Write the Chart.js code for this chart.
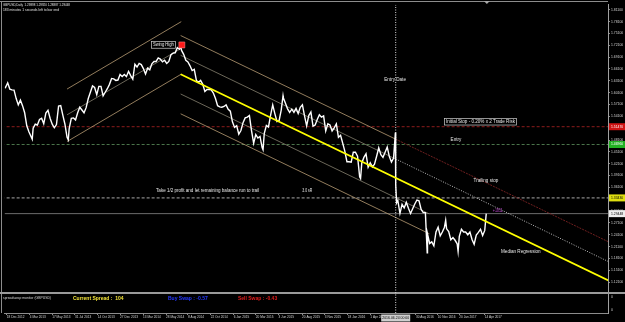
<!DOCTYPE html>
<html lang="en">
<head>
<meta charset="UTF-8">
<title>GBPUSD,Daily</title>
<script src="https://cdn.jsdelivr.net/npm/chart.js"></script>
<style>
  html, body { margin: 0; padding: 0; background: #000; }
  canvas { display: block; }
</style>
</head>
<body>
<canvas id="chart" width="625" height="322"></canvas>
<script>
// ---- weekly closes (Fridays), first one on 2012-12-14 ----
const firstWeek = '2012-12-14';
const close2012 = [1.6145, 1.6260, 1.6100];
const close2013 = [1.6080, 1.6075, 1.5860, 1.5700, 1.5820, 1.5680, 1.5500, 1.5170, 1.5020, 1.4900, 1.5110, 1.5210, 1.5190,
  1.5330, 1.5360, 1.5220, 1.5490, 1.5560, 1.5360, 1.5210, 1.5120, 1.5200, 1.5670, 1.5680, 1.5440, 1.5210, 1.4880,
  1.5100, 1.5360, 1.5370, 1.5320, 1.5500, 1.5640, 1.5570, 1.5500, 1.5630, 1.5860, 1.6020, 1.6180, 1.6140, 1.5960,
  1.6170, 1.6170, 1.5930, 1.6020, 1.6110, 1.6220, 1.6370, 1.6360, 1.6320, 1.6330, 1.6470];
const close2014 = [1.6420, 1.6470, 1.6420, 1.6550, 1.6440, 1.6350, 1.6730, 1.6660, 1.6750, 1.6720, 1.6620, 1.6480, 1.6630,
  1.6590, 1.6740, 1.6800, 1.6800, 1.6890, 1.6860, 1.6790, 1.6830, 1.6750, 1.6800, 1.6970, 1.7010, 1.7020, 1.7150,
  1.7110, 1.7080, 1.6980, 1.6830, 1.6790, 1.6690, 1.6570, 1.6600, 1.6320, 1.6270, 1.6320, 1.6220, 1.6040, 1.6090,
  1.6090, 1.6080, 1.6000, 1.5860, 1.5680, 1.5650, 1.5640, 1.5660, 1.5700, 1.5590, 1.5540];
const close2015 = [1.5270, 1.5130, 1.5170, 1.4960, 1.5050, 1.5250, 1.5370, 1.5390, 1.5430, 1.5050, 1.4730, 1.4950, 1.4860,
  1.4900, 1.4620, 1.4970, 1.5180, 1.5140, 1.5440, 1.5700, 1.5480, 1.5280, 1.5300, 1.5570, 1.5880, 1.5740, 1.5600,
  1.5510, 1.5590, 1.5510, 1.5610, 1.5480, 1.5640, 1.5700, 1.5420, 1.5170, 1.5430, 1.5520, 1.5160, 1.5190, 1.5330,
  1.5450, 1.5390, 1.5420, 1.5040, 1.5220, 1.5190, 1.5040, 1.5120, 1.5220, 1.4880, 1.4930];
const close2016 = [1.4730, 1.4530, 1.4260, 1.4260, 1.4250, 1.4500, 1.4500, 1.4400, 1.3880, 1.4230, 1.4370, 1.4460, 1.4120,
  1.4230, 1.4130, 1.4200, 1.4400, 1.4610, 1.4440, 1.4370, 1.4500, 1.4630, 1.4390, 1.4250, 1.4350, 1.3680, 1.3280,
  1.2950, 1.3180, 1.3090, 1.3230, 1.3080, 1.2950, 1.3070, 1.3190, 1.3290, 1.3270, 1.3050, 1.2970, 1.2970, 1.2430,
  1.2190, 1.2230, 1.2130, 1.2480, 1.2600, 1.2380, 1.2480, 1.2600, 1.2560, 1.2490, 1.2280, 1.2340];
const close2017 = [1.2270, 1.2180, 1.2370, 1.2550, 1.2480, 1.2480, 1.2410, 1.2480, 1.2290, 1.2170, 1.2400, 1.2470, 1.2550,
  1.2390, 1.2520];

// single days that stick out of the weekly line (spikes, swing points, last bars)
const extraDates = ['2012-12-11', '2013-03-12', '2013-07-09', '2014-07-15', '2015-04-13', '2015-06-18', '2016-02-29',
  '2016-06-23', '2016-06-27', '2016-10-06', '2016-12-06', '2017-01-16', '2017-04-18', '2017-04-19'];
const extraClose = [1.6120, 1.4831, 1.4814, 1.7190, 1.4565, 1.5930, 1.3836, 1.5000, 1.3220, 1.1950, 1.2775, 1.1990,
  1.2870, 1.2945];

// price axis and time axis labels
const priceTicks = [1.81100, 1.78100, 1.75100, 1.72100, 1.69100, 1.66100, 1.63100, 1.60100, 1.57100, 1.54100, 1.51100,
  1.48100, 1.45100, 1.42100, 1.39100, 1.36100, 1.33100, 1.30100, 1.27100, 1.24100, 1.21100, 1.18100, 1.15100, 1.12100];
const dateTicks = ['18 Dec 2012', '4 Mar 2013', '17 May 2013', '31 Jul 2013', '14 Oct 2013', '27 Dec 2013', '13 Mar 2014',
  '28 May 2014', '8 Aug 2014', '22 Oct 2014', '6 Jan 2015', '20 Mar 2015', '3 Jun 2015', '20 Aug 2015', '3 Nov 2015',
  '18 Jan 2016', '1 Apr 2016', '30 Aug 2016', '10 Nov 2016', '20 Jan 2017', '14 Apr 2017'];

// trade levels
const stopPrice = 1.51470;
const entryPrice = 1.46960;
const targetPrice = 1.33430;
const lastPrice = 1.29448;
const entryDate = '2016-06-24';
const swingHigh = ['2014-07-19', 1.72187];

// drawn lines: [startDate, startPrice, endDate, endPrice]
const risingUpper = ['2013-07-05', 1.61015, '2014-07-17', 1.78087];
const risingMid = ['2013-07-05', 1.54487, '2014-07-17', 1.71308];
const risingLower = ['2013-07-05', 1.47709, '2014-07-17', 1.64781];
const fallTop = ['2014-07-15', 1.74572, '2016-06-24', 1.48311];
const fallTopRay = ['2016-06-24', 1.48311, '2018-06-30', 1.21069];
const fallSecond = ['2014-07-15', 1.69551, '2016-06-24', 1.43289];
const fallSecondRay = ['2016-06-24', 1.43289, '2018-06-30', 1.16048];
const fallMedian = ['2014-07-15', 1.64781, '2018-06-30', 1.11277];
const fallFourth = ['2014-07-15', 1.59759, '2016-10-13', 1.29380];
const fallFifth = ['2014-07-15', 1.54738, '2016-10-13', 1.24359];

// text notes on the chart, anchored to date / price
const noteText = ['Swing High', 'Entry Date', 'Initial Stop - 0.20% x 2 Trade Risk', 'Entry', 'Trailing stop',
  'Take 1/2 profit and let remaining balance run to trail', '3.0 sR', 'Median Regression', '+1811'];
const noteDate = ['2014-05-19', '2016-06-22', '2017-03-31', '2017-01-09', '2017-04-18', '2014-10-12', '2015-09-06',
  '2017-08-11', '2017-05-27'];
const notePrice = [1.72187, 1.63274, 1.52730, 1.48210, 1.37665, 1.35154, 1.35154, 1.19840, 1.30074];

// ---- helpers ----
const ORIGIN = Date.UTC(2012, 11, 18);
const MONTHS = ['Jan', 'Feb', 'Mar', 'Apr', 'May', 'Jun', 'Jul', 'Aug', 'Sep', 'Oct', 'Nov', 'Dec'];
function toDay(s) {
  const [y, m, d] = s.split('-').map(Number);
  return (Date.UTC(y, m - 1, d) - ORIGIN) / 86400000;
}
function tickDay(label) {
  const [d, mon, y] = label.split(' ');
  return (Date.UTC(+y, MONTHS.indexOf(mon), +d) - ORIGIN) / 86400000;
}
function seg(line, color, width, dash, order) {
  return {
    data: [{ x: toDay(line[0]), y: line[1] }, { x: toDay(line[2]), y: line[3] }],
    borderColor: color, borderWidth: width, borderDash: dash || [],
    pointRadius: 0, tension: 0, fill: false, order: order
  };
}
function hline(price, color, width, dash) {
  return seg(['2012-12-01', price, '2018-06-30', price], color, width, dash, 8);
}

const allClose = close2012.concat(close2013, close2014, close2015, close2016, close2017);
const week0 = toDay(firstWeek);
const pricePoints = allClose.map((c, i) => ({ x: week0 + 7 * i, y: c }))
  .concat(extraDates.map((d, i) => ({ x: toDay(d), y: extraClose[i] })))
  .sort((a, b) => a.x - b.x);

const X_MIN = -6.55, X_MAX = 1984.9;
const Y_MIN = 1.042737, Y_MAX = 1.823553;
const TAN = '#b89c74', GREYTAN = '#9a9480';

const datasets = [
  hline(stopPrice, '#8e1c1c', 1, [3, 2]),
  hline(entryPrice, '#4a744a', 1, [3, 2]),
  hline(targetPrice, '#a8a8a8', 1, [3, 2]),
  hline(lastPrice, '#6c6c6c', 1),
  seg(risingUpper, TAN, 0.8, [], 6),
  seg(risingMid, GREYTAN, 0.7, [], 6),
  seg(risingLower, TAN, 0.8, [], 6),
  seg(fallTop, TAN, 0.8, [], 6),
  seg(fallTopRay, '#7a2222', 0.9, [2, 1], 6),
  seg(fallSecond, GREYTAN, 0.7, [], 6),
  seg(fallSecondRay, '#cfcfcf', 0.9, [1, 1.5], 6),
  seg(fallFourth, GREYTAN, 0.7, [], 6),
  seg(fallFifth, TAN, 0.8, [], 6),
  {
    data: [{ x: toDay(entryDate), y: Y_MIN }, { x: toDay(entryDate), y: Y_MAX }],
    borderColor: '#dcdcdc', borderWidth: 1, borderDash: [1, 1.5], pointRadius: 0, order: 4
  },
  { data: pricePoints, borderColor: '#ffffff', borderWidth: 1.4, pointRadius: 0, tension: 0, order: 2 },
  seg(fallMedian, '#ffff00', 1.7, [], 1),
  {
    data: [{ x: toDay(swingHigh[0]), y: swingHigh[1] }], showLine: false,
    pointStyle: 'rect', pointRadius: 4.2, backgroundColor: '#ff1a1a', borderColor: '#ff7a7a', borderWidth: 0.6, order: 0
  }
];

const FONT = '"Liberation Sans", Arial, sans-serif';

function txt(ctx, s, x, y, w, size, color, bold, align) {
  ctx.font = (bold ? 'bold ' : '') + size + 'px ' + FONT;
  ctx.fillStyle = color;
  ctx.textAlign = align || 'center';
  ctx.textBaseline = 'middle';
  ctx.fillText(s, x, y, w);
}

const noteWidth = [21, 23, 69, 11, 26, 103, 10, 40, 10];

const mt4Overlay = {
  id: 'mt4Overlay',
  beforeDraw(chart) {
    const ctx = chart.ctx;
    ctx.save();
    ctx.fillStyle = '#000';
    ctx.fillRect(0, 0, chart.width, chart.height);
    ctx.restore();
  },
  beforeDatasetsDraw(chart) {
    const ctx = chart.ctx, a = chart.chartArea;
    ctx.save();
    // window frame
    ctx.fillStyle = '#8c8c8c';
    ctx.fillRect(0, 1, a.right, 1);
    ctx.fillRect(1, 1, 1, a.bottom - 1);
    // separator of the indicator sub-window
    ctx.fillStyle = '#9a9a9a';
    ctx.fillRect(0, 292, chart.width, 2);
    ctx.restore();
  },
  afterDatasetsDraw(chart) {
    const ctx = chart.ctx, xs = chart.scales.x, ys = chart.scales.y;
    ctx.save();
    noteText.forEach((s, i) => {
      const x = xs.getPixelForValue(toDay(noteDate[i]));
      const y = ys.getPixelForValue(notePrice[i]);
      const color = s === '+1811' ? '#b040c0' : '#e6e6e6';
      if (i === 0 || i === 2) {
        ctx.strokeStyle = '#d0d0d0';
        ctx.lineWidth = 0.7;
        ctx.strokeRect(x - noteWidth[i] / 2 - 1.5, y - 3.3, noteWidth[i] + 3, 6.6);
      }
      txt(ctx, s, x, y, noteWidth[i], 4.6, color);
    });
    // header
    txt(ctx, 'GBPUSD,Daily  1.29898 1.29920 1.28887 1.29448', 3, 4.6, 67, 4.2, '#e0e0e0', false, 'left');
    txt(ctx, '183 minutes 1 seconds left to bar end', 3, 9.6, 56, 4.2, '#e0e0e0', false, 'left');
    // sub-window texts
    txt(ctx, 'spreadswap monitor (GBPUSD)', 3, 297.5, 48, 4.2, '#d8d8d8', false, 'left');
    txt(ctx, 'Current Spread :  104', 73, 298.5, 51, 5, '#f2e23a', true, 'left');
    txt(ctx, 'Buy Swap : -0.57', 168, 298.5, 42, 5, '#2438ff', true, 'left');
    txt(ctx, 'Sell Swap : -0.43', 238, 298.5, 40, 5, '#e01c1c', true, 'left');
    ctx.restore();
  },
  afterDraw(chart) {
    const ctx = chart.ctx, xs = chart.scales.x, ys = chart.scales.y, a = chart.chartArea;
    ctx.save();
    // coloured price boxes on the right scale
    [[stopPrice, '#d01414', '#ffffff'], [entryPrice, '#22b022', '#ffffff'],
     [targetPrice, '#dede10', '#000000'], [lastPrice, '#eeeeee', '#000000']].forEach(([p, bg, fg]) => {
      const y = ys.getPixelForValue(p);
      ctx.fillStyle = bg;
      ctx.fillRect(a.right + 1, y - 3.5, chart.width - a.right - 1, 7);
      ctx.font = '3.4px ' + FONT;
      ctx.fillStyle = fg;
      ctx.textAlign = 'left';
      ctx.textBaseline = 'middle';
      ctx.fillText(p.toFixed(5), a.right + 3, y, 13.5);
    });
    // entry date box on the time scale
    const ex = xs.getPixelForValue(toDay(entryDate));
    ctx.fillStyle = '#cfcfcf';
    ctx.fillRect(ex - 14.5, 314.5, 29, 7);
    txt(ctx, '2016.06.24 00:00', ex, 318, 27, 3.6, '#000000');
    // sub-window scale
    txt(ctx, '0', a.right + 3, 296.5, 5, 3.6, '#c8c8c8', false, 'left');
    txt(ctx, '0', a.right + 3, 310, 5, 3.6, '#c8c8c8', false, 'left');
    // chart shift marker
    const sx = xs.getPixelForValue(toDay('2017-04-21'));
    ctx.fillStyle = '#a8a8a8';
    ctx.beginPath();
    ctx.moveTo(sx - 3, 1);
    ctx.lineTo(sx + 3, 1);
    ctx.lineTo(sx, 4);
    ctx.closePath();
    ctx.fill();
    ctx.restore();
  }
};

new Chart(document.getElementById('chart'), {
  type: 'line',
  data: { datasets: datasets },
  options: {
    responsive: false,
    animation: false,
    events: [],
    layout: { padding: { left: 0, right: 0, top: 2, bottom: 0 } },
    plugins: { legend: { display: false }, tooltip: { enabled: false } },
    scales: {
      x: {
        type: 'linear', position: 'bottom', min: X_MIN, max: X_MAX,
        afterBuildTicks: s => { s.ticks = dateTicks.map(t => ({ value: tickDay(t) })); },
        afterFit: s => { s.height = 9; s.paddingLeft = 0; s.paddingRight = 0; },
        ticks: {
          autoSkip: false, maxRotation: 0, minRotation: 0, align: 'start', padding: 0.5,
          color: '#d4d4d4', font: { family: FONT, size: 3.15 },
          callback: (v, i) => dateTicks[i]
        },
        grid: { display: true, drawOnChartArea: false, drawTicks: true, tickLength: 2, color: '#8c8c8c' },
        border: { display: true, color: '#8c8c8c' }
      },
      y: {
        type: 'linear', position: 'right', min: Y_MIN, max: Y_MAX,
        afterBuildTicks: s => { s.ticks = priceTicks.map(v => ({ value: v })); },
        afterFit: s => { s.width = 17; s.paddingTop = 0; s.paddingBottom = 0; },
        ticks: {
          autoSkip: false, padding: 1, color: '#d4d4d4', font: { family: FONT, size: 3.4 },
          callback: v => v.toFixed(5)
        },
        grid: { display: true, drawOnChartArea: false, drawTicks: true, tickLength: 2, color: '#8c8c8c' },
        border: { display: true, color: '#a0a0a0' }
      }
    }
  },
  plugins: [mt4Overlay]
});
</script>
</body>
</html>
